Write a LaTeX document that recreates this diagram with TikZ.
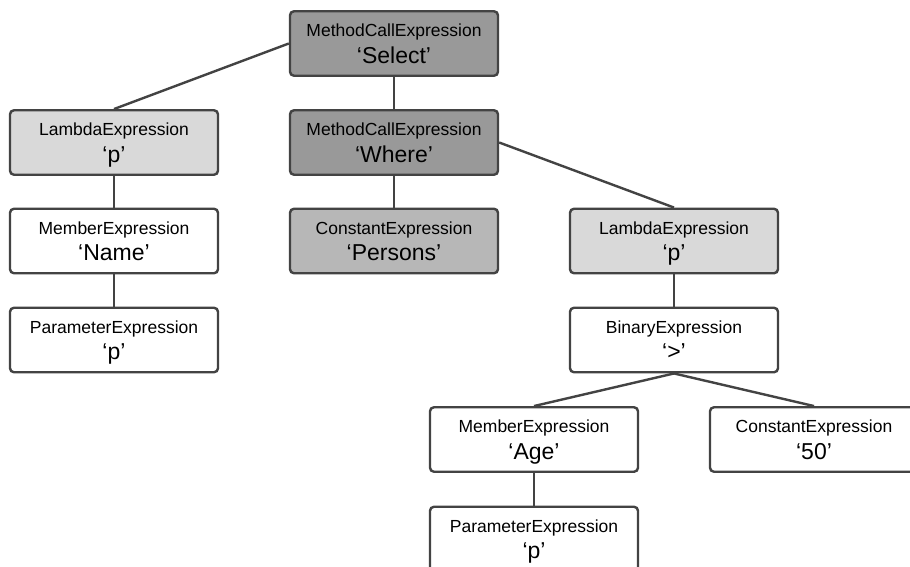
\documentclass[tikz,border=0pt]{standalone}
\usepackage{fontspec}
\setmainfont{Liberation Sans}
\definecolor{edgegray}{HTML}{434343}
\definecolor{darkfill}{HTML}{999999}
\definecolor{midfill}{HTML}{B7B7B7}
\definecolor{lightfill}{HTML}{D9D9D9}
\tikzset{
  exprbox/.style={draw=edgegray, line width=2.4pt, rounded corners=4pt,
    minimum width=208pt, minimum height=64.5pt, inner sep=0pt},
  typelabel/.style={anchor=base, inner sep=0pt, font=\fontsize{17.5}{20}\selectfont},
  valuelabel/.style={anchor=base, inner sep=0pt, font=\fontsize{23}{26}\selectfont},
  link/.style={draw=edgegray, line width=2.4pt}
}
% expression box: name, centre, fill, node type, value
\newcommand\exprnode[5]{%
  \node[exprbox, fill=#3] (#1) at (#2) {};
  \node[typelabel] (#1-type) at ([yshift=-26.5pt]#1.north) {#4};
  \node[valuelabel] (#1-value) at ([yshift=-53pt]#1.north) {‘#5’};
}
\begin{document}
\begin{tikzpicture}[x=1pt, y=-1pt]
\useasboundingbox (0,0) rectangle (910,566);
\clip (0,0) rectangle (910,566);
\fill[white] (0,0) rectangle (910,566);

\exprnode{select}{394,43.5}{darkfill}{MethodCallExpression}{Select}
\exprnode{where}{394,142.5}{darkfill}{MethodCallExpression}{Where}
\exprnode{lamL}{114,142.5}{lightfill}{LambdaExpression}{p}
\exprnode{name}{114,241}{white}{MemberExpression}{Name}
\exprnode{parL}{114,340}{white}{ParameterExpression}{p}
\exprnode{persons}{394,241}{midfill}{ConstantExpression}{Persons}
\exprnode{lamR}{674,241}{lightfill}{LambdaExpression}{p}
\exprnode{binary}{674,340}{white}{BinaryExpression}{>}
\exprnode{age}{534,439.5}{white}{MemberExpression}{Age}
\exprnode{fifty}{814,439.5}{white}{ConstantExpression}{50}
\exprnode{parR}{534,539}{white}{ParameterExpression}{p}

\draw[link] (select.west) -- (lamL.north);
\draw[link] (select.south) -- (where.north);
\draw[link] (where.east) -- (lamR.north);
\draw[link] (where.south) -- (persons.north);
\draw[link] (lamL.south) -- (name.north);
\draw[link] (name.south) -- (parL.north);
\draw[link] (lamR.south) -- (binary.north);
\draw[link] (binary.south) -- (age.north);
\draw[link] (binary.south) -- (fifty.north);
\draw[link] (age.south) -- (parR.north);
\end{tikzpicture}
\end{document}
